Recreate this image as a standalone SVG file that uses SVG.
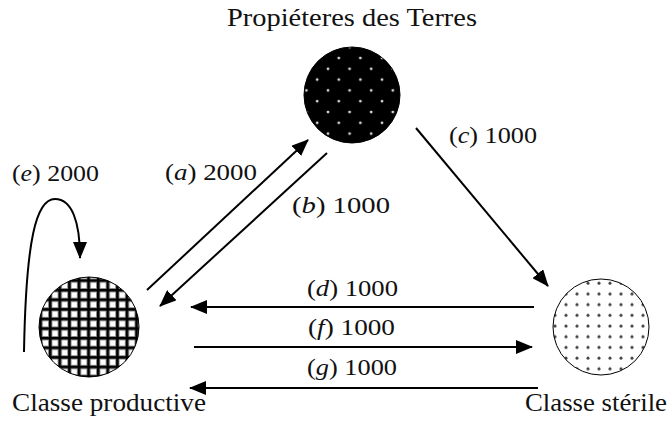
<svg xmlns="http://www.w3.org/2000/svg" width="670" height="421" viewBox="0 0 670 421">
<style>
.lbl{font-family:"Liberation Serif","Times New Roman",serif;font-size:23px;fill:#111}
.name{font-family:"Liberation Serif","Times New Roman",serif;font-size:25px;fill:#111}
.it{font-style:italic}
.conn{stroke:#000;stroke-width:2;fill:none}
.node{stroke:#000;stroke-width:1}
</style>
<defs>
<marker id="ah" markerUnits="userSpaceOnUse" markerWidth="17" markerHeight="14" refX="16" refY="7" orient="auto" viewBox="0 0 17 14">
<path d="M0,0 L17,7 L0,14 Z" fill="#000"/>
</marker>
<pattern id="pTop" patternUnits="userSpaceOnUse" width="21.6" height="21.6" x="0" y="0">
<rect width="21.6" height="21.6" fill="#000"/>
<circle cx="4" cy="4" r="1.4" fill="#ddd"/>
<circle cx="14.8" cy="14.8" r="1.4" fill="#ddd"/>
</pattern>
<pattern id="pGrid" patternUnits="userSpaceOnUse" width="9.6" height="9.6" x="0" y="0">
<rect width="9.6" height="9.6" fill="#fff"/>
<rect x="0" y="0" width="4.4" height="9.6" fill="#999"/>
<rect x="0" y="0" width="9.6" height="4.4" fill="#999"/>
<rect x="0.9" y="0" width="2.6" height="9.6" fill="#000"/>
<rect x="0" y="0.9" width="9.6" height="2.6" fill="#000"/>
</pattern>
<pattern id="pDots" patternUnits="userSpaceOnUse" width="11" height="10.7" x="0" y="0">
<rect width="11" height="10.7" fill="#fff"/>
<circle cx="5" cy="5" r="1.5" fill="#444"/>
</pattern>
</defs>
<g id="node-proprietaires">
<circle class="node" cx="352" cy="95" r="48" fill="url(#pTop)"/>
<text class="name" x="352" y="26" text-anchor="middle" textLength="250" lengthAdjust="spacingAndGlyphs">Propiéteres des Terres</text>
</g>
<g id="node-productive">
<circle class="node" cx="89" cy="327" r="50" fill="url(#pGrid)"/>
<text class="name" x="12" y="411" textLength="194" lengthAdjust="spacingAndGlyphs">Classe productive</text>
</g>
<g id="node-sterile">
<circle class="node" cx="601" cy="327" r="48" fill="url(#pDots)"/>
<text class="name" x="525" y="411" textLength="142" lengthAdjust="spacingAndGlyphs">Classe stérile</text>
</g>
<g id="connectors">
<line class="conn" x1="147" y1="290" x2="308" y2="140" marker-end="url(#ah)"/>
<line class="conn" x1="327" y1="153" x2="160" y2="306" marker-end="url(#ah)"/>
<line class="conn" x1="416" y1="128" x2="548" y2="286" marker-end="url(#ah)"/>
<line class="conn" x1="534" y1="307" x2="191" y2="307" marker-end="url(#ah)"/>
<line class="conn" x1="194" y1="347" x2="532" y2="347" marker-end="url(#ah)"/>
<line class="conn" x1="538" y1="388" x2="190" y2="388" marker-end="url(#ah)"/>
<path class="conn" d="M24 352 C26 240 36 199 55 199 C72 199 80 222 80 258" marker-end="url(#ah)"/>
<text class="lbl" x="12" y="181" textLength="87" lengthAdjust="spacingAndGlyphs">(<tspan class="it">e</tspan>) 2000</text>
<text class="lbl" x="165" y="180" textLength="92" lengthAdjust="spacingAndGlyphs">(<tspan class="it">a</tspan>) 2000</text>
<text class="lbl" x="292" y="213" textLength="98" lengthAdjust="spacingAndGlyphs">(<tspan class="it">b</tspan>) 1000</text>
<text class="lbl" x="449" y="143" textLength="88" lengthAdjust="spacingAndGlyphs">(<tspan class="it">c</tspan>) 1000</text>
<text class="lbl" x="307" y="296" textLength="91" lengthAdjust="spacingAndGlyphs">(<tspan class="it">d</tspan>) 1000</text>
<text class="lbl" x="308" y="335" textLength="87" lengthAdjust="spacingAndGlyphs">(<tspan class="it">f</tspan>) 1000</text>
<text class="lbl" x="307" y="375" textLength="90" lengthAdjust="spacingAndGlyphs">(<tspan class="it">g</tspan>) 1000</text>
</g>
</svg>
